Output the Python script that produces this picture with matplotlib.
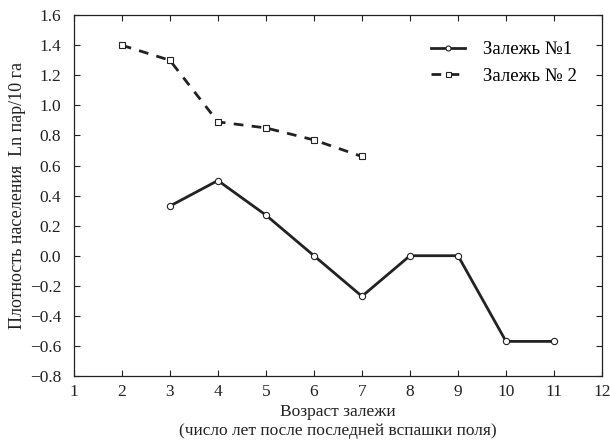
import matplotlib
matplotlib.use('Agg')
import matplotlib.pyplot as plt

plt.rcParams['font.family'] = ['Liberation Serif', 'DejaVu Serif']

# Залежь №1
x1 = [3, 4, 5, 6, 7, 8, 9, 10, 11]
y1 = [0.33, 0.50, 0.27, 0.00, -0.27, 0.00, 0.00, -0.57, -0.57]

# Залежь №2
x2 = [2, 3, 4, 5, 6, 7]
y2 = [1.40, 1.30, 0.89, 0.85, 0.77, 0.66]

xticks = list(range(1, 13))
yticks = [1.6, 1.4, 1.2, 1.0, 0.8, 0.6, 0.4, 0.2, 0.0, -0.2, -0.4, -0.6, -0.8]

fig = plt.figure(figsize=(6.1, 4.46), dpi=100)
ax = fig.add_axes([0.121, 0.157, 0.866, 0.809])

ax.plot(x1, y1, color='#222222', linewidth=2, marker='o', markersize=4.5,
        markerfacecolor='white', markeredgecolor='#222222', markeredgewidth=0.8,
        label='Залежь №1')
ax.plot(x2, y2, color='#222222', linewidth=2, linestyle=(0, (3.5, 3)), marker='s',
        markersize=4.5, markerfacecolor='white', markeredgecolor='#222222',
        markeredgewidth=0.8, label='Залежь № 2')

ax.set_xlim(1, 12)
ax.set_ylim(-0.8, 1.6)
ax.set_xticks(xticks)
ax.set_yticks(yticks)
ax.set_yticklabels([f'{v:.1f}'.replace('-', '\u2212') for v in yticks])
ax.tick_params(direction='in', top=True, right=True, labelsize=12.5,
               length=4, width=0.8, colors='#222222')
ax.tick_params(axis='y', pad=9)
ax.tick_params(axis='x', pad=6)
for s in ax.spines.values():
    s.set_linewidth(0.9)
    s.set_color('#222222')

ax.set_xlabel('Возраст залежи\n(число лет после последней вспашки поля)',
              fontsize=12.5, color='#222222', labelpad=3)
ax.set_ylabel('Плотность населения  Ln пар/10 га', fontsize=13,
              color='#222222', labelpad=3)

leg = ax.legend(loc='upper right', bbox_to_anchor=(0.985, 0.975), frameon=False,
                fontsize=13.5, handlelength=1.8, handletextpad=1.0,
                labelspacing=0.5, markerscale=0.8)

fig.savefig('out.png', dpi=100)
